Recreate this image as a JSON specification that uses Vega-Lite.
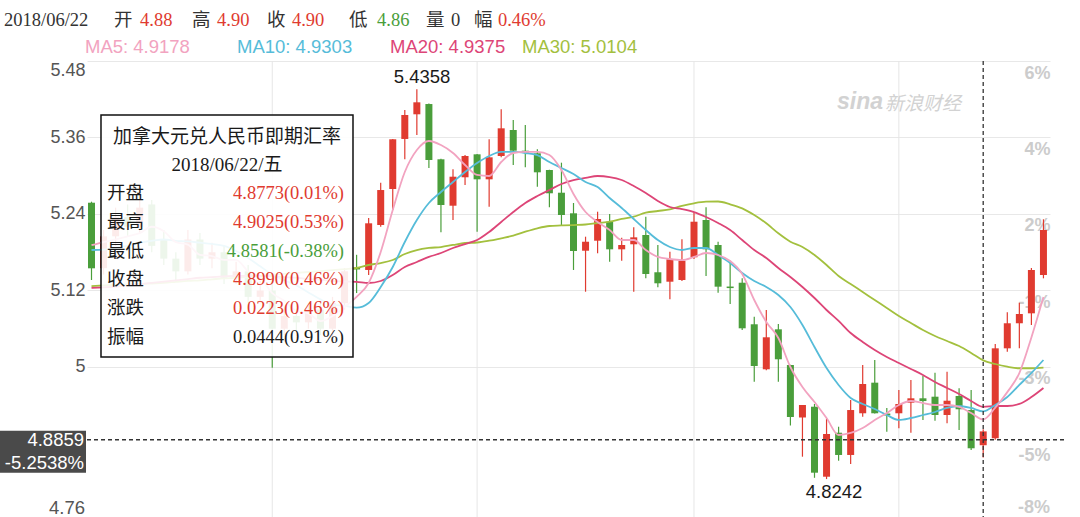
{
  "$schema": "https://vega.github.io/schema/vega-lite/v6.json",
  "description": "CAD/CNY spot rate daily candlestick chart with MA5/10/20/30 and a crosshair tooltip.",
  "autosize": {"type": "none"},
  "padding": {"left": 87, "top": 61, "right": 30, "bottom": 0},
  "width": 963,
  "height": 456,
  "background": "#ffffff",
  "config": {"view": {"stroke": null}},
  "datasets": {
    "k": [
      {"i":0,"o":5.2577,"h":5.2593,"l":5.1365,"c":5.1548,"tone":"down","m5":5.191,"m10":5.1835,"m20":5.124,"m30":5.127},
      {"i":1,"o":5.155,"h":5.215,"l":5.145,"c":5.205,"tone":"up","m5":5.196,"m10":5.184,"m20":5.125,"m30":5.128},
      {"i":2,"o":5.205,"h":5.25,"l":5.19,"c":5.235,"tone":"up","m5":5.2,"m10":5.187,"m20":5.126,"m30":5.129},
      {"i":3,"o":5.235,"h":5.255,"l":5.205,"c":5.22,"tone":"down","m5":5.205,"m10":5.19,"m20":5.128,"m30":5.1295},
      {"i":4,"o":5.22,"h":5.265,"l":5.21,"c":5.25,"tone":"up","m5":5.21,"m10":5.195,"m20":5.13,"m30":5.13},
      {"i":5,"o":5.255,"h":5.262,"l":5.18,"c":5.19,"tone":"down","m5":5.22,"m10":5.198,"m20":5.132,"m30":5.131},
      {"i":6,"o":5.2,"h":5.215,"l":5.16,"c":5.17,"tone":"down","m5":5.213,"m10":5.2,"m20":5.134,"m30":5.132},
      {"i":7,"o":5.17,"h":5.18,"l":5.135,"c":5.15,"tone":"down","m5":5.196,"m10":5.198,"m20":5.136,"m30":5.1335},
      {"i":8,"o":5.15,"h":5.215,"l":5.145,"c":5.2,"tone":"up","m5":5.192,"m10":5.197,"m20":5.138,"m30":5.135},
      {"i":9,"o":5.2,"h":5.21,"l":5.16,"c":5.17,"tone":"down","m5":5.176,"m10":5.195,"m20":5.14,"m30":5.136},
      {"i":10,"o":5.17,"h":5.195,"l":5.155,"c":5.18,"tone":"up","m5":5.174,"m10":5.193,"m20":5.141,"m30":5.1375},
      {"i":11,"o":5.18,"h":5.19,"l":5.13,"c":5.14,"tone":"down","m5":5.168,"m10":5.19,"m20":5.142,"m30":5.139},
      {"i":12,"o":5.14,"h":5.165,"l":5.13,"c":5.15,"tone":"up","m5":5.168,"m10":5.182,"m20":5.143,"m30":5.14},
      {"i":13,"o":5.15,"h":5.16,"l":5.1,"c":5.11,"tone":"down","m5":5.15,"m10":5.171,"m20":5.143,"m30":5.1415},
      {"i":14,"o":5.11,"h":5.135,"l":5.1,"c":5.12,"tone":"up","m5":5.14,"m10":5.158,"m20":5.143,"m30":5.143},
      {"i":15,"o":5.12,"h":5.13,"l":4.999,"c":5.06,"tone":"down","m5":5.116,"m10":5.145,"m20":5.142,"m30":5.1445},
      {"i":16,"o":5.06,"h":5.095,"l":5.05,"c":5.08,"tone":"up","m5":5.104,"m10":5.136,"m20":5.141,"m30":5.146},
      {"i":17,"o":5.08,"h":5.09,"l":5.055,"c":5.07,"tone":"down","m5":5.088,"m10":5.128,"m20":5.14,"m30":5.1475},
      {"i":18,"o":5.07,"h":5.1,"l":5.06,"c":5.09,"tone":"up","m5":5.084,"m10":5.117,"m20":5.138,"m30":5.149},
      {"i":19,"o":5.09,"h":5.1,"l":5.05,"c":5.06,"tone":"down","m5":5.072,"m10":5.106,"m20":5.137,"m30":5.1505},
      {"i":20,"o":5.06,"h":5.11,"l":5.045,"c":5.1,"tone":"up","m5":5.08,"m10":5.098,"m20":5.135,"m30":5.152},
      {"i":21,"o":5.1,"h":5.155,"l":5.09,"c":5.15,"tone":"up","m5":5.094,"m10":5.096,"m20":5.134,"m30":5.1535},
      {"i":22,"o":5.156,"h":5.176,"l":5.116,"c":5.153,"tone":"down","m5":5.11,"m10":5.093,"m20":5.1334,"m30":5.1553},
      {"i":23,"o":5.1522,"h":5.2337,"l":5.1443,"c":5.2254,"tone":"up","m5":5.1318,"m10":5.1004,"m20":5.1318,"m30":5.16},
      {"i":24,"o":5.2227,"h":5.2891,"l":5.22,"c":5.2776,"tone":"up","m5":5.1804,"m10":5.1255,"m20":5.1349,"m30":5.1631},
      {"i":25,"o":5.2792,"h":5.3577,"l":5.2463,"c":5.3572,"tone":"up","m5":5.2463,"m10":5.1569,"m20":5.1443,"m30":5.1678},
      {"i":26,"o":5.3577,"h":5.4031,"l":5.3258,"c":5.3953,"tone":"up","m5":5.3059,"m10":5.1961,"m20":5.1569,"m30":5.1773},
      {"i":27,"o":5.3964,"h":5.4358,"l":5.3639,"c":5.4152,"tone":"up","m5":5.3404,"m10":5.2306,"m20":5.1647,"m30":5.1835},
      {"i":28,"o":5.4125,"h":5.4135,"l":5.3122,"c":5.3247,"tone":"down","m5":5.3545,"m10":5.2573,"m20":5.1726,"m30":5.1867},
      {"i":29,"o":5.3258,"h":5.3265,"l":5.2113,"c":5.2541,"tone":"down","m5":5.3482,"m10":5.2745,"m20":5.1788,"m30":5.1882},
      {"i":30,"o":5.253,"h":5.3101,"l":5.2306,"c":5.2985,"tone":"up","m5":5.3357,"m10":5.2902,"m20":5.1867,"m30":5.1914},
      {"i":31,"o":5.2976,"h":5.3325,"l":5.2855,"c":5.331,"tone":"up","m5":5.3169,"m10":5.3059,"m20":5.1929,"m30":5.1945},
      {"i":32,"o":5.3336,"h":5.334,"l":5.2122,"c":5.2944,"tone":"down","m5":5.3012,"m10":5.32,"m20":5.1992,"m30":5.1953},
      {"i":33,"o":5.2944,"h":5.3572,"l":5.2515,"c":5.3289,"tone":"up","m5":5.2996,"m10":5.331,"m20":5.2118,"m30":5.1981},
      {"i":34,"o":5.331,"h":5.4042,"l":5.3289,"c":5.3744,"tone":"up","m5":5.3216,"m10":5.3373,"m20":5.2275,"m30":5.2019},
      {"i":35,"o":5.3718,"h":5.3875,"l":5.3169,"c":5.3393,"tone":"down","m5":5.3357,"m10":5.3373,"m20":5.2431,"m30":5.206},
      {"i":36,"o":5.3393,"h":5.3796,"l":5.3133,"c":5.3362,"tone":"down","m5":5.3373,"m10":5.3357,"m20":5.2573,"m30":5.2122},
      {"i":37,"o":5.3352,"h":5.3415,"l":5.2828,"c":5.3054,"tone":"down","m5":5.3373,"m10":5.3325,"m20":5.2682,"m30":5.2176},
      {"i":38,"o":5.309,"h":5.3095,"l":5.2505,"c":5.2725,"tone":"down","m5":5.3325,"m10":5.3216,"m20":5.2776,"m30":5.2212},
      {"i":39,"o":5.2734,"h":5.3205,"l":5.2227,"c":5.2384,"tone":"down","m5":5.309,"m10":5.3122,"m20":5.2871,"m30":5.222},
      {"i":40,"o":5.2411,"h":5.2573,"l":5.1522,"c":5.182,"tone":"down","m5":5.2714,"m10":5.3027,"m20":5.2933,"m30":5.2227},
      {"i":41,"o":5.1824,"h":5.2044,"l":5.1181,"c":5.1965,"tone":"up","m5":5.2431,"m10":5.2902,"m20":5.2965,"m30":5.2235},
      {"i":42,"o":5.1981,"h":5.2436,"l":5.1784,"c":5.2322,"tone":"up","m5":5.2275,"m10":5.2824,"m20":5.2996,"m30":5.2259},
      {"i":43,"o":5.2279,"h":5.24,"l":5.1652,"c":5.1846,"tone":"down","m5":5.2149,"m10":5.2651,"m20":5.298,"m30":5.2279},
      {"i":44,"o":5.1846,"h":5.2028,"l":5.1667,"c":5.1914,"tone":"up","m5":5.1992,"m10":5.2494,"m20":5.2933,"m30":5.2322},
      {"i":45,"o":5.1925,"h":5.2191,"l":5.1181,"c":5.2034,"tone":"up","m5":5.1992,"m10":5.2322,"m20":5.2839,"m30":5.2358},
      {"i":46,"o":5.2071,"h":5.2358,"l":5.1391,"c":5.1459,"tone":"down","m5":5.1835,"m10":5.2149,"m20":5.2729,"m30":5.242},
      {"i":47,"o":5.1486,"h":5.1914,"l":5.125,"c":5.1313,"tone":"down","m5":5.1726,"m10":5.1992,"m20":5.2604,"m30":5.2447},
      {"i":48,"o":5.1338,"h":5.1809,"l":5.1062,"c":5.1689,"tone":"up","m5":5.1694,"m10":5.1882,"m20":5.251,"m30":5.2474},
      {"i":49,"o":5.1365,"h":5.2003,"l":5.1349,"c":5.1667,"tone":"up","m5":5.1678,"m10":5.1835,"m20":5.2478,"m30":5.2526},
      {"i":50,"o":5.1721,"h":5.242,"l":5.1694,"c":5.2279,"tone":"up","m5":5.1726,"m10":5.1867,"m20":5.2431,"m30":5.2568},
      {"i":51,"o":5.2306,"h":5.2505,"l":5.1427,"c":5.1846,"tone":"down","m5":5.1788,"m10":5.1867,"m20":5.2353,"m30":5.2593},
      {"i":52,"o":5.1914,"h":5.1965,"l":5.1165,"c":5.126,"tone":"down","m5":5.1757,"m10":5.1757,"m20":5.2259,"m30":5.2596},
      {"i":53,"o":5.1262,"h":5.1667,"l":5.0988,"c":5.1238,"tone":"down","m5":5.1663,"m10":5.1631,"m20":5.2149,"m30":5.2552},
      {"i":54,"o":5.1322,"h":5.1391,"l":5.058,"c":5.0607,"tone":"down","m5":5.1459,"m10":5.1475,"m20":5.1992,"m30":5.2489},
      {"i":55,"o":5.067,"h":5.0789,"l":4.977,"c":5.0016,"tone":"down","m5":5.1051,"m10":5.1349,"m20":5.1835,"m30":5.2384},
      {"i":56,"o":4.9964,"h":5.0894,"l":4.995,"c":5.0466,"tone":"up","m5":5.0706,"m10":5.1255,"m20":5.171,"m30":5.2254},
      {"i":57,"o":5.0591,"h":5.0675,"l":4.977,"c":5.0121,"tone":"down","m5":5.0455,"m10":5.1129,"m20":5.1553,"m30":5.2097},
      {"i":58,"o":5.0031,"h":5.0035,"l":4.9082,"c":4.9216,"tone":"down","m5":5.0,"m10":5.0941,"m20":5.1412,"m30":5.1965},
      {"i":59,"o":4.9208,"h":4.9404,"l":4.8593,"c":4.9404,"tone":"up","m5":4.9686,"m10":5.0659,"m20":5.1255,"m30":5.1882},
      {"i":60,"o":4.9377,"h":4.942,"l":4.8262,"c":4.8342,"tone":"down","m5":4.9451,"m10":5.0314,"m20":5.1082,"m30":5.1757},
      {"i":61,"o":4.8279,"h":4.9195,"l":4.8242,"c":4.8949,"tone":"up","m5":4.92,"m10":4.9984,"m20":5.0894,"m30":5.16},
      {"i":62,"o":4.8969,"h":4.9063,"l":4.853,"c":4.862,"tone":"down","m5":4.8933,"m10":4.9718,"m20":5.0722,"m30":5.1427},
      {"i":63,"o":4.862,"h":4.9482,"l":4.8478,"c":4.9325,"tone":"up","m5":4.8965,"m10":4.9514,"m20":5.0533,"m30":5.1302},
      {"i":64,"o":4.9274,"h":5.0031,"l":4.922,"c":4.9733,"tone":"up","m5":4.9043,"m10":4.942,"m20":5.0392,"m30":5.1176},
      {"i":65,"o":4.9754,"h":5.011,"l":4.927,"c":4.9274,"tone":"down","m5":4.9169,"m10":4.9341,"m20":5.0267,"m30":5.1051},
      {"i":66,"o":4.927,"h":4.9357,"l":4.8985,"c":4.924,"tone":"down","m5":4.9278,"m10":4.9247,"m20":5.0157,"m30":5.0925},
      {"i":67,"o":4.9274,"h":4.9639,"l":4.9039,"c":4.942,"tone":"up","m5":4.9404,"m10":4.9169,"m20":5.0063,"m30":5.08},
      {"i":68,"o":4.944,"h":4.9796,"l":4.8969,"c":4.9509,"tone":"up","m5":4.9467,"m10":4.92,"m20":4.9969,"m30":5.069},
      {"i":69,"o":4.9509,"h":4.9864,"l":4.9169,"c":4.9466,"tone":"down","m5":4.9435,"m10":4.9247,"m20":4.9875,"m30":5.058},
      {"i":70,"o":4.9534,"h":4.991,"l":4.9158,"c":4.9247,"tone":"down","m5":4.9404,"m10":4.9294,"m20":4.9765,"m30":5.0486},
      {"i":71,"o":4.9247,"h":4.9926,"l":4.9117,"c":4.9471,"tone":"up","m5":4.9404,"m10":4.9357,"m20":4.9671,"m30":5.0408},
      {"i":72,"o":4.9545,"h":4.9666,"l":4.9012,"c":4.9337,"tone":"down","m5":4.9373,"m10":4.9388,"m20":4.9576,"m30":5.0329},
      {"i":73,"o":4.9325,"h":4.9639,"l":4.8698,"c":4.8725,"tone":"down","m5":4.9278,"m10":4.9357,"m20":4.9467,"m30":5.022},
      {"i":74,"o":4.8773,"h":4.9025,"l":4.8581,"c":4.899,"tone":"up","m5":4.9178,"m10":4.9303,"m20":4.9375,"m30":5.0104},
      {"i":75,"o":4.8882,"h":5.0361,"l":4.886,"c":5.0293,"tone":"up","m5":4.9363,"m10":4.9404,"m20":4.9388,"m30":5.0047},
      {"i":76,"o":5.0293,"h":5.0858,"l":5.024,"c":5.0686,"tone":"up","m5":4.9606,"m10":4.9529,"m20":4.9388,"m30":5.0005},
      {"i":77,"o":5.0686,"h":5.1009,"l":5.0293,"c":5.0831,"tone":"up","m5":4.9905,"m10":4.9718,"m20":4.942,"m30":4.998},
      {"i":78,"o":5.0842,"h":5.1553,"l":5.0659,"c":5.1522,"tone":"up","m5":5.0464,"m10":4.9906,"m20":4.9529,"m30":4.998},
      {"i":79,"o":5.1443,"h":5.2317,"l":5.1391,"c":5.2149,"tone":"up","m5":5.1098,"m10":5.011,"m20":4.9671,"m30":4.9989}
    ],
    "vgrid": [{"i": 15}, {"i": 32}, {"i": 50}, {"i": 67}],
    "box": [
      {"kind": "tip", "x": 0.788, "x2": 21.701, "y": 5.3953, "y2": 5.0157},
      {"kind": "price", "x": -7.593, "x2": -0.456, "y": 4.9001, "y2": 4.8342}
    ],
    "lbl": [
      {"grp": "hdr", "x": -7.261, "y": 5.5443, "t": "2018/06/22", "tone": "plain"},
      {"grp": "hdr", "x": 1.867, "y": 5.5443, "t": "开", "tone": "plain"},
      {"grp": "hdr", "x": 4.025, "y": 5.5443, "t": "4.88", "tone": "up"},
      {"grp": "hdr", "x": 8.34, "y": 5.5443, "t": "高", "tone": "plain"},
      {"grp": "hdr", "x": 10.415, "y": 5.5443, "t": "4.90", "tone": "up"},
      {"grp": "hdr", "x": 14.564, "y": 5.5443, "t": "收", "tone": "plain"},
      {"grp": "hdr", "x": 16.639, "y": 5.5443, "t": "4.90", "tone": "up"},
      {"grp": "hdr", "x": 21.369, "y": 5.5443, "t": "低", "tone": "plain"},
      {"grp": "hdr", "x": 23.693, "y": 5.5443, "t": "4.86", "tone": "down"},
      {"grp": "hdr", "x": 27.759, "y": 5.5443, "t": "量", "tone": "plain"},
      {"grp": "hdr", "x": 29.834, "y": 5.5443, "t": "0", "tone": "plain"},
      {"grp": "hdr", "x": 31.743, "y": 5.5443, "t": "幅", "tone": "plain"},
      {"grp": "hdr", "x": 33.734, "y": 5.5443, "t": "0.46%", "tone": "up"},
      {"grp": "ma", "x": -0.539, "y": 5.502, "t": "MA5: 4.9178", "tone": "ma5"},
      {"grp": "ma", "x": 12.075, "y": 5.502, "t": "MA10: 4.9303", "tone": "ma10"},
      {"grp": "ma", "x": 24.772, "y": 5.502, "t": "MA20: 4.9375", "tone": "ma20"},
      {"grp": "ma", "x": 35.726, "y": 5.502, "t": "MA30: 5.0104", "tone": "ma30"},
      {"grp": "tipc", "x": 11.245, "y": 5.3608, "t": "加拿大元兑人民币即期汇率", "tone": "ink"},
      {"grp": "tipc", "x": 11.245, "y": 5.3169, "t": "2018/06/22/五", "tone": "ink"},
      {"grp": "tipl", "x": 1.286, "y": 5.2729, "t": "开盘", "tone": "ink"},
      {"grp": "tipl", "x": 1.286, "y": 5.2274, "t": "最高", "tone": "ink"},
      {"grp": "tipl", "x": 1.286, "y": 5.182, "t": "最低", "tone": "ink"},
      {"grp": "tipl", "x": 1.286, "y": 5.138, "t": "收盘", "tone": "ink"},
      {"grp": "tipl", "x": 1.286, "y": 5.0925, "t": "涨跌", "tone": "ink"},
      {"grp": "tipl", "x": 1.286, "y": 5.047, "t": "振幅", "tone": "ink"},
      {"grp": "tipr", "x": 20.954, "y": 5.2729, "t": "4.8773(0.01%)", "tone": "up"},
      {"grp": "tipr", "x": 20.954, "y": 5.2274, "t": "4.9025(0.53%)", "tone": "up"},
      {"grp": "tipr", "x": 20.954, "y": 5.182, "t": "4.8581(-0.38%)", "tone": "down"},
      {"grp": "tipr", "x": 20.954, "y": 5.138, "t": "4.8990(0.46%)", "tone": "up"},
      {"grp": "tipr", "x": 20.954, "y": 5.0925, "t": "0.0223(0.46%)", "tone": "up"},
      {"grp": "tipr", "x": 20.954, "y": 5.047, "t": "0.0444(0.91%)", "tone": "ink"},
      {"grp": "ext", "x": 27.43, "y": 5.4549, "t": "5.4358", "tone": "ink"},
      {"grp": "ext", "x": 61.62, "y": 4.8039, "t": "4.8242", "tone": "ink"},
      {"grp": "pbox", "x": -0.622, "y": 4.8855, "t": "4.8859", "tone": "white"},
      {"grp": "pbox", "x": -0.622, "y": 4.8494, "t": "-5.2538%", "tone": "white"},
      {"grp": "axl", "x": -0.539, "y": 4.7795, "t": "4.76", "tone": "axis"},
      {"grp": "axr", "x": 79.5436, "y": 4.7795, "t": "-8%", "tone": "faint"},
      {"grp": "wm1", "x": 61.87, "y": 5.4157, "t": "sina", "tone": "wm"},
      {"grp": "wm2", "x": 65.85, "y": 5.4125, "t": "新浪财经", "tone": "wm"}
    ]
  },
  "resolve": {"axis": {"y": "independent"}},
  "layer": [
    {
      "data": {"name": "vgrid"},
      "mark": {"type": "rule", "color": "#e6e6e6", "strokeWidth": 1},
      "encoding": {
        "x": {"field": "i", "type": "quantitative", "scale": {"domain": [-0.3734, 79.5436], "nice": false, "zero": false, "padding": 0}, "axis": null}
      }
    },
    {
      "data": {"name": "lbl"},
      "transform": [{"filter": "datum.grp == 'wm1'"}],
      "mark": {"type": "text", "align": "left", "baseline": "middle", "font": "Liberation Sans", "fontSize": 23, "fontWeight": "bold", "fontStyle": "italic"},
      "encoding": {
        "x": {"field": "x", "type": "quantitative", "axis": null},
        "y": {"field": "y", "type": "quantitative", "scale": {"domain": [4.7647, 5.48], "nice": false, "zero": false}, "axis": null},
        "text": {"field": "t"},
        "color": {"field": "tone", "type": "nominal", "legend": null, "scale": {"domain": ["up", "down", "plain", "ink", "ma5", "ma10", "ma20", "ma30", "white", "axis", "faint", "wm"], "range": ["#e03b30", "#4a9e3b", "#333333", "#1a1a1a", "#f2a3c0", "#56bcd9", "#dd4577", "#a3c03e", "#ffffff", "#555555", "#cccccc", "#d2d2d2"]}}
      }
    },
    {
      "data": {"name": "lbl"},
      "transform": [{"filter": "datum.grp == 'wm2'"}],
      "mark": {"type": "text", "align": "left", "baseline": "middle", "font": "Noto Sans CJK SC", "fontSize": 19, "fontStyle": "italic"},
      "encoding": {
        "x": {"field": "x", "type": "quantitative", "axis": null},
        "y": {"field": "y", "type": "quantitative", "axis": null},
        "text": {"field": "t"},
        "color": {"field": "tone", "type": "nominal", "legend": null, "scale": {"domain": ["up", "down", "plain", "ink", "ma5", "ma10", "ma20", "ma30", "white", "axis", "faint", "wm"], "range": ["#e03b30", "#4a9e3b", "#333333", "#1a1a1a", "#f2a3c0", "#56bcd9", "#dd4577", "#a3c03e", "#ffffff", "#555555", "#cccccc", "#d2d2d2"]}}
      }
    },
    {
      "data": {"name": "k"},
      "mark": {"type": "rule", "strokeWidth": 1.2},
      "encoding": {
        "x": {"field": "i", "type": "quantitative", "axis": null},
        "y": {
          "field": "l", "type": "quantitative",
          "scale": {"domain": [4.7647, 5.48], "nice": false, "zero": false},
          "axis": {
            "orient": "right", "title": null, "values": [4.88, 5, 5.12, 5.24, 5.36, 5.48],
            "labelExpr": "round((datum.value / 5.1568 - 1) * 100) + '%'",
            "domain": false, "ticks": false, "tickSize": 0, "grid": false,
            "labelAlign": "right", "labelBaseline": "top", "labelOffset": 3, "labelPadding": 0,
            "labelFont": "Liberation Sans", "labelFontSize": 18, "labelFontWeight": "bold", "labelColor": "#cccccc"
          }
        },
        "y2": {"field": "h"},
        "color": {"field": "tone", "type": "nominal", "legend": null, "scale": {"domain": ["up", "down", "plain", "ink", "ma5", "ma10", "ma20", "ma30", "white", "axis", "faint", "wm"], "range": ["#e03b30", "#4a9e3b", "#333333", "#1a1a1a", "#f2a3c0", "#56bcd9", "#dd4577", "#a3c03e", "#ffffff", "#555555", "#cccccc", "#d2d2d2"]}}
      }
    },
    {
      "data": {"name": "k"},
      "mark": {"type": "bar", "size": 7},
      "encoding": {
        "x": {"field": "i", "type": "quantitative", "axis": null},
        "y": {
          "field": "o", "type": "quantitative",
          "scale": {"domain": [4.7647, 5.48], "nice": false, "zero": false},
          "axis": {
            "orient": "left", "title": null, "values": [5, 5.12, 5.24, 5.36, 5.48],
            "labelExpr": "datum.value == 5 ? '5' : format(datum.value, '.2f')",
            "domain": false, "ticks": false, "tickSize": 0, "labelPadding": 2, "labelFlush": true,
            "labelFont": "Liberation Sans", "labelFontSize": 18, "labelColor": "#555555",
            "grid": true, "gridColor": "#e8e8e8", "gridWidth": 1
          }
        },
        "y2": {"field": "c"},
        "color": {"field": "tone", "type": "nominal", "legend": null, "scale": {"domain": ["up", "down", "plain", "ink", "ma5", "ma10", "ma20", "ma30", "white", "axis", "faint", "wm"], "range": ["#e03b30", "#4a9e3b", "#333333", "#1a1a1a", "#f2a3c0", "#56bcd9", "#dd4577", "#a3c03e", "#ffffff", "#555555", "#cccccc", "#d2d2d2"]}}
      }
    },
    {
      "data": {"name": "k"},
      "mark": {"type": "line", "color": "#a3c03e", "strokeWidth": 1.8, "interpolate": "monotone"},
      "encoding": {
        "x": {"field": "i", "type": "quantitative", "axis": null},
        "y": {"field": "m30", "type": "quantitative", "axis": null}
      }
    },
    {
      "data": {"name": "k"},
      "mark": {"type": "line", "color": "#dd4577", "strokeWidth": 1.8, "interpolate": "monotone"},
      "encoding": {
        "x": {"field": "i", "type": "quantitative", "axis": null},
        "y": {"field": "m20", "type": "quantitative", "axis": null}
      }
    },
    {
      "data": {"name": "k"},
      "mark": {"type": "line", "color": "#56bcd9", "strokeWidth": 1.8, "interpolate": "monotone"},
      "encoding": {
        "x": {"field": "i", "type": "quantitative", "axis": null},
        "y": {"field": "m10", "type": "quantitative", "axis": null}
      }
    },
    {
      "data": {"name": "k"},
      "mark": {"type": "line", "color": "#f2a3c0", "strokeWidth": 1.8, "interpolate": "monotone"},
      "encoding": {
        "x": {"field": "i", "type": "quantitative", "axis": null},
        "y": {"field": "m5", "type": "quantitative", "axis": null}
      }
    },
    {
      "data": {"name": "box"},
      "transform": [{"filter": "datum.kind == 'tip'"}],
      "mark": {"type": "rect", "fill": "#ffffff", "fillOpacity": 0.9, "stroke": "#111111", "strokeWidth": 1.5},
      "encoding": {
        "x": {"field": "x", "type": "quantitative", "axis": null},
        "x2": {"field": "x2"},
        "y": {"field": "y", "type": "quantitative", "axis": null},
        "y2": {"field": "y2"}
      }
    },
    {
      "data": {"name": "lbl"},
      "transform": [{"filter": "datum.grp == 'tipc'"}],
      "mark": {"type": "text", "align": "center", "baseline": "middle", "font": "'Liberation Serif', 'Noto Sans CJK SC'", "fontSize": 19},
      "encoding": {
        "x": {"field": "x", "type": "quantitative", "axis": null},
        "y": {"field": "y", "type": "quantitative", "axis": null},
        "text": {"field": "t"},
        "color": {"field": "tone", "type": "nominal", "legend": null, "scale": {"domain": ["up", "down", "plain", "ink", "ma5", "ma10", "ma20", "ma30", "white", "axis", "faint", "wm"], "range": ["#e03b30", "#4a9e3b", "#333333", "#1a1a1a", "#f2a3c0", "#56bcd9", "#dd4577", "#a3c03e", "#ffffff", "#555555", "#cccccc", "#d2d2d2"]}}
      }
    },
    {
      "data": {"name": "lbl"},
      "transform": [{"filter": "datum.grp == 'tipl' || datum.grp == 'hdr'"}],
      "mark": {"type": "text", "align": "left", "baseline": "middle", "font": "'Liberation Serif', 'Noto Sans CJK SC'", "fontSize": 18.5},
      "encoding": {
        "x": {"field": "x", "type": "quantitative", "axis": null},
        "y": {"field": "y", "type": "quantitative", "axis": null},
        "text": {"field": "t"},
        "color": {"field": "tone", "type": "nominal", "legend": null, "scale": {"domain": ["up", "down", "plain", "ink", "ma5", "ma10", "ma20", "ma30", "white", "axis", "faint", "wm"], "range": ["#e03b30", "#4a9e3b", "#333333", "#1a1a1a", "#f2a3c0", "#56bcd9", "#dd4577", "#a3c03e", "#ffffff", "#555555", "#cccccc", "#d2d2d2"]}}
      }
    },
    {
      "data": {"name": "lbl"},
      "transform": [{"filter": "datum.grp == 'tipr'"}],
      "mark": {"type": "text", "align": "right", "baseline": "middle", "font": "'Liberation Serif', 'Noto Sans CJK SC'", "fontSize": 18.5},
      "encoding": {
        "x": {"field": "x", "type": "quantitative", "axis": null},
        "y": {"field": "y", "type": "quantitative", "axis": null},
        "text": {"field": "t"},
        "color": {"field": "tone", "type": "nominal", "legend": null, "scale": {"domain": ["up", "down", "plain", "ink", "ma5", "ma10", "ma20", "ma30", "white", "axis", "faint", "wm"], "range": ["#e03b30", "#4a9e3b", "#333333", "#1a1a1a", "#f2a3c0", "#56bcd9", "#dd4577", "#a3c03e", "#ffffff", "#555555", "#cccccc", "#d2d2d2"]}}
      }
    },
    {
      "data": {"name": "lbl"},
      "transform": [{"filter": "datum.grp == 'ma'"}],
      "mark": {"type": "text", "align": "left", "baseline": "middle", "font": "Liberation Sans", "fontSize": 18.5},
      "encoding": {
        "x": {"field": "x", "type": "quantitative", "axis": null},
        "y": {"field": "y", "type": "quantitative", "axis": null},
        "text": {"field": "t"},
        "color": {"field": "tone", "type": "nominal", "legend": null, "scale": {"domain": ["up", "down", "plain", "ink", "ma5", "ma10", "ma20", "ma30", "white", "axis", "faint", "wm"], "range": ["#e03b30", "#4a9e3b", "#333333", "#1a1a1a", "#f2a3c0", "#56bcd9", "#dd4577", "#a3c03e", "#ffffff", "#555555", "#cccccc", "#d2d2d2"]}}
      }
    },
    {
      "data": {"name": "lbl"},
      "transform": [{"filter": "datum.grp == 'ext'"}],
      "mark": {"type": "text", "align": "center", "baseline": "middle", "font": "Liberation Sans", "fontSize": 18.5},
      "encoding": {
        "x": {"field": "x", "type": "quantitative", "axis": null},
        "y": {"field": "y", "type": "quantitative", "axis": null},
        "text": {"field": "t"},
        "color": {"field": "tone", "type": "nominal", "legend": null, "scale": {"domain": ["up", "down", "plain", "ink", "ma5", "ma10", "ma20", "ma30", "white", "axis", "faint", "wm"], "range": ["#e03b30", "#4a9e3b", "#333333", "#1a1a1a", "#f2a3c0", "#56bcd9", "#dd4577", "#a3c03e", "#ffffff", "#555555", "#cccccc", "#d2d2d2"]}}
      }
    },
    {
      "data": {"values": [{"i": 74}]},
      "mark": {"type": "rule", "color": "#333333", "strokeWidth": 1.3, "strokeDash": [4, 3]},
      "encoding": {
        "x": {"field": "i", "type": "quantitative", "axis": null}
      }
    },
    {
      "data": {"values": [{"x": -0.3734, "x2": 80.95, "y": 4.8859}]},
      "mark": {"type": "rule", "color": "#333333", "strokeWidth": 1.3, "strokeDash": [4, 3]},
      "encoding": {
        "x": {"field": "x", "type": "quantitative", "axis": null},
        "x2": {"field": "x2"},
        "y": {"field": "y", "type": "quantitative", "axis": null}
      }
    },
    {
      "data": {"name": "box"},
      "transform": [{"filter": "datum.kind == 'price'"}],
      "mark": {"type": "rect", "fill": "#4a4a4a"},
      "encoding": {
        "x": {"field": "x", "type": "quantitative", "axis": null},
        "x2": {"field": "x2"},
        "y": {"field": "y", "type": "quantitative", "axis": null},
        "y2": {"field": "y2"}
      }
    },
    {
      "data": {"name": "lbl"},
      "transform": [{"filter": "datum.grp == 'pbox' || datum.grp == 'axl'"}],
      "mark": {"type": "text", "align": "right", "baseline": "middle", "font": "Liberation Sans", "fontSize": 18.5},
      "encoding": {
        "x": {"field": "x", "type": "quantitative", "axis": null},
        "y": {"field": "y", "type": "quantitative", "axis": null},
        "text": {"field": "t"},
        "color": {"field": "tone", "type": "nominal", "legend": null, "scale": {"domain": ["up", "down", "plain", "ink", "ma5", "ma10", "ma20", "ma30", "white", "axis", "faint", "wm"], "range": ["#e03b30", "#4a9e3b", "#333333", "#1a1a1a", "#f2a3c0", "#56bcd9", "#dd4577", "#a3c03e", "#ffffff", "#555555", "#cccccc", "#d2d2d2"]}}
      }
    },
    {
      "data": {"name": "lbl"},
      "transform": [{"filter": "datum.grp == 'axr'"}],
      "mark": {"type": "text", "align": "right", "baseline": "middle", "font": "Liberation Sans", "fontSize": 18, "fontWeight": "bold"},
      "encoding": {
        "x": {"field": "x", "type": "quantitative", "axis": null},
        "y": {"field": "y", "type": "quantitative", "axis": null},
        "text": {"field": "t"},
        "color": {"field": "tone", "type": "nominal", "legend": null, "scale": {"domain": ["up", "down", "plain", "ink", "ma5", "ma10", "ma20", "ma30", "white", "axis", "faint", "wm"], "range": ["#e03b30", "#4a9e3b", "#333333", "#1a1a1a", "#f2a3c0", "#56bcd9", "#dd4577", "#a3c03e", "#ffffff", "#555555", "#cccccc", "#d2d2d2"]}}
      }
    }
  ]
}
